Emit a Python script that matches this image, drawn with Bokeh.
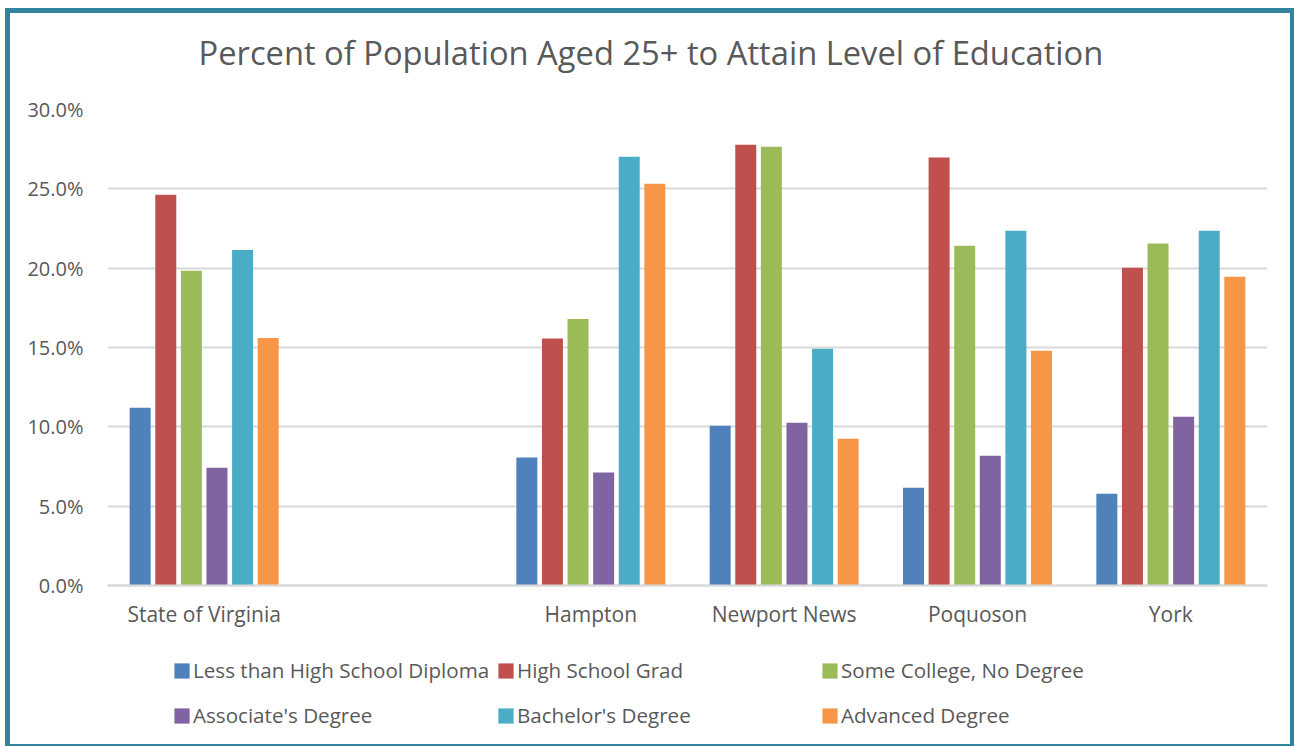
from bokeh.plotting import figure
from bokeh.models import (FactorRange, Range1d, FixedTicker, ColumnDataSource,
                          Legend, LegendItem, Title)
from bokeh.transform import dodge
from bokeh.embed import file_html
from bokeh.resources import INLINE

# ---- data ----
axis_categories = ["State of Virginia", " ", "Hampton", "Newport News", "Poquoson", "York"]
regions = ["State of Virginia", "Hampton", "Newport News", "Poquoson", "York"]
series_names = ["Less than High School Diploma", "High School Grad",
                "Some College, No Degree", "Associate's Degree",
                "Bachelor's Degree", "Advanced Degree"]
less_than_hs = [11.2, 8.07, 10.07, 6.16, 5.78]
hs_grad = [24.62, 15.56, 27.78, 26.97, 20.03]
some_college = [19.83, 16.8, 27.65, 21.42, 21.55]
associates = [7.42, 7.12, 10.26, 8.18, 10.64]
bachelors = [21.15, 27.02, 14.92, 22.36, 22.36]
advanced = [15.6, 25.32, 9.25, 14.8, 19.46]
y_ticks = [0, 5, 10, 15, 20, 25, 30]
y_tick_labels = ["0.0%", "5.0%", "10.0%", "15.0%", "20.0%", "25.0%", "30.0%"]
colors = ["#4F81BD", "#C0504D", "#9BBB59", "#8064A2", "#4BACC6", "#F79646"]

series_values = [less_than_hs, hs_grad, some_college, associates, bachelors, advanced]

FONT = "Open Sans"
TEXT = "#595959"
GRID = "#D9D9D9"

source = ColumnDataSource(data=dict(region=regions, **{f"s{i}": v for i, v in enumerate(series_values)}))

# frame: 30% at top, extends below 0 to leave room for the legend
y_bottom = -9.769
p = figure(
    x_range=FactorRange(*axis_categories, range_padding=0, factor_padding=0),
    y_range=Range1d(y_bottom, 30),
    width=1289, height=738,
    output_backend="svg", toolbar_location=None,
    min_border_left=97, min_border_right=32, min_border_top=96, min_border_bottom=11,
    background_fill_color="white", border_fill_color="white",
)
p.styles = {"border-top": "5px solid #31849B", "border-left": "5px solid #31849B",
            "border-right": "4px solid #31849B", "border-bottom": "2px solid #31849B",
            "margin-left": "5px", "margin-top": "8px"}
p.outline_line_color = None

# spacer between title and plot area (closest to the frame), then the title
spacer = Title(text=" ", text_font_size="1px", standoff=32, text_color="white")
p.add_layout(spacer, "above")
t = Title(text="Percent of Population Aged 25+ to Attain Level of Education",
          align="left", offset=91, standoff=0,
          text_font=FONT, text_font_size="32.7px", text_font_style="normal",
          text_color=TEXT)
p.add_layout(t, "above")

step = 0.1324
bar_w = 0.1086
renderers = []
for j, name in enumerate(series_names):
    r = p.vbar(x=dodge("region", (j - 2.5) * step, range=p.x_range), top=f"s{j}",
               width=bar_w, source=source, fill_color=colors[j], line_color=None)
    renderers.append(r)

# axes
p.xgrid.grid_line_color = None
p.ygrid.grid_line_color = GRID
p.ygrid.grid_line_width = 2
p.yaxis.ticker = FixedTicker(ticks=y_ticks)
p.yaxis.major_label_overrides = {t_: l for t_, l in zip(y_ticks, y_tick_labels)}
for ax in (p.xaxis[0], p.yaxis[0]):
    ax.major_tick_line_color = None
    ax.minor_tick_line_color = None
    ax.major_label_text_font = FONT
    ax.major_label_text_color = TEXT
p.yaxis.major_label_text_font_size = "20px"
p.xaxis.major_label_text_font_size = "21px"
p.yaxis.axis_line_color = None
p.yaxis.major_label_standoff = 18
p.xaxis.fixed_location = 0
p.xaxis.axis_line_color = GRID
p.xaxis.axis_line_width = 2
p.xaxis.major_label_standoff = 9

# legend: six single-item legends laid out as 3 columns x 2 rows
col_x = [65, 389, 713]
row_y = [55, 10]
for j, name in enumerate(series_names):
    lg = Legend(items=[LegendItem(label=name, renderers=[renderers[j]])],
                location=(col_x[j % 3], row_y[j // 3]),
                orientation="vertical", padding=0, margin=0, spacing=0,
                glyph_width=19, glyph_height=19, label_standoff=2,
                label_height=30,
                label_text_font=FONT, label_text_font_size="20.6px",
                label_text_color=TEXT, border_line_color=None,
                background_fill_alpha=0)
    p.add_layout(lg, "center")

open("out.html", "w").write(file_html(p, INLINE))
